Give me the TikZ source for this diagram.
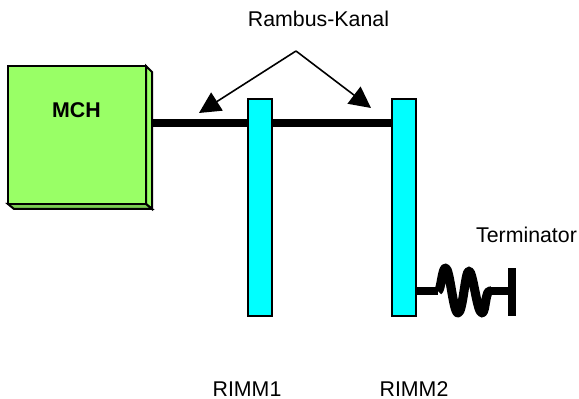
\documentclass[tikz,border=0pt]{standalone}
\usepackage{fontspec}
\setmainfont{Liberation Sans}
\usetikzlibrary{arrows.meta,positioning}

\definecolor{mchgreen}{HTML}{99FF66}
\definecolor{mchside}{HTML}{7ACC52}
\definecolor{rimmcyan}{HTML}{00FFFF}

\tikzset{
  rimm/.style={draw,fill=rimmcyan,line width=1.1pt,minimum width=18pt,minimum height=162.75pt,inner sep=0pt,outer sep=0pt},
  bus/.style={line width=6pt},
  pointer/.style={-{Triangle[length=16pt,width=16pt]},line width=1.2pt},
  wire/.style={line width=5.6pt},
  caption/.style={font=\fontsize{16pt}{18pt}\selectfont,inner sep=0pt}
}

\begin{document}
\begin{tikzpicture}[x=0.75pt,y=-0.75pt]
  \useasboundingbox (0,0) rectangle (579,399);

  \coordinate (busstart) at (152,123);
  \coordinate (busend) at (392,123);
  \coordinate (apex) at (296,51);
  \coordinate (tipleft) at (199,113);
  \coordinate (tipright) at (371,108);
  \coordinate (coilin) at (438,291);
  \coordinate (coilout) at (491,291);

  % MCH block
  \filldraw[fill=mchgreen,line width=1.5pt] (146,66) -- (152,72) -- (152,209) -- (146,204) -- cycle;
  \filldraw[fill=mchside,line width=1.5pt] (8,204) -- (146,204) -- (152,209) -- (14,209) -- cycle;
  \node[draw,fill=mchgreen,line width=1.5pt,minimum width=103.5pt,minimum height=103.5pt,inner sep=0pt] (mch) at (77,135) {};
  \node[font=\fontsize{16pt}{18pt}\selectfont\bfseries,inner sep=0pt] (mchlabel) at (76.5,110.5) {MCH};

  \draw[bus] (busstart) -- (busend);

  \node[rimm] (rimm1) at (260,207.5) {};
  \node[rimm] (rimm2) at (404,207.5) {};

  \node[caption] (kanal) at (318.5,19) {Rambus-Kanal};
  \node[caption] (term) at (526.5,235) {Terminator};
  \node[caption] (label1) at (247,389) {RIMM1};
  \node[caption] (label2) at (414,389) {RIMM2};

  \draw[pointer] (apex) -- (tipleft);
  \draw[pointer] (apex) -- (tipright);

  % terminator
  \node[fill=black,minimum width=5.6pt,minimum height=36pt,inner sep=0pt] (endbar) at (512,292) {};
  \draw[wire] (rimm2.east |- coilin) -- (coilin);
  \draw[line width=6.8pt,line join=round] (coilin)
    .. controls (441,291) and (442,268) .. (445.5,268)
    .. controls (450,268) and (453,313) .. (458,313)
    .. controls (463,313) and (465,271) .. (469,271)
    .. controls (473,271) and (477,313) .. (482,313)
    .. controls (486,313) and (485,288) .. (491,291);
  \draw[wire] (coilout) -- (endbar.center |- coilout);
\end{tikzpicture}
\end{document}
